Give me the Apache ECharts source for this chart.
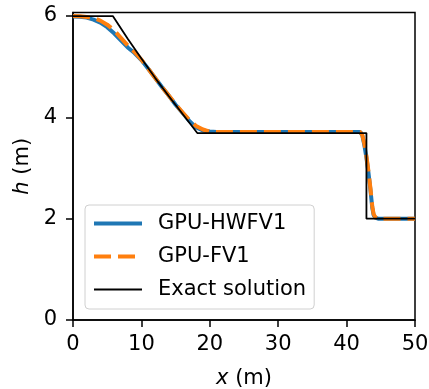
<!DOCTYPE html>
<html>
<head>
<meta charset="utf-8">
<script src="https://cdn.jsdelivr.net/npm/echarts@6/dist/echarts.min.js"></script>
<style>
html,body{margin:0;padding:0;background:#fff;}
#chart{width:429px;height:389px;}
</style>
</head>
<body>
<div id="chart"></div>
<script>
// GPU-HWFV1
const xHW = [0, 1, 2, 3, 4, 5, 6, 7, 8, 9, 10, 11, 12, 13, 14, 15, 16, 17, 18, 19, 20, 21, 30, 40, 42.0, 42.3, 42.6, 42.9, 43.2, 43.5, 43.75, 43.95, 44.2, 44.6, 50];
const hHW = [5.99, 5.985, 5.97, 5.93, 5.87, 5.78, 5.66, 5.52, 5.38, 5.27, 5.13, 4.96, 4.78, 4.60, 4.43, 4.25, 4.09, 3.93, 3.80, 3.74, 3.72, 3.71, 3.71, 3.71, 3.71, 3.64, 3.45, 3.20, 2.90, 2.55, 2.22, 2.07, 2.02, 2.0, 2.0];
// GPU-FV1
const xFV = [0, 1, 2, 3, 4, 5, 6, 7, 8, 9, 10, 11, 12, 13, 14, 15, 16, 17, 18, 19, 20, 21, 30, 40, 42.0, 42.3, 42.6, 42.9, 43.2, 43.5, 43.75, 43.95, 44.2, 44.6, 50];
const hFV = [6.0, 5.995, 5.98, 5.96, 5.91, 5.83, 5.72, 5.57, 5.42, 5.29, 5.14, 4.96, 4.78, 4.60, 4.43, 4.26, 4.10, 3.95, 3.83, 3.76, 3.72, 3.71, 3.71, 3.71, 3.71, 3.65, 3.48, 3.23, 2.93, 2.58, 2.25, 2.09, 2.03, 2.0, 2.0];
// Exact solution
const xEx = [0, 5.82, 8, 10, 12, 14, 16, 18.17, 42.9, 42.9, 50];
const hEx = [6, 6, 5.55, 5.16, 4.78, 4.42, 4.07, 3.69, 3.69, 2.0, 2.0];

const xTicks = [0, 10, 20, 30, 40, 50];
const yTicks = [0, 2, 4, 6];
const seriesNames = ['GPU-HWFV1', 'GPU-FV1', 'Exact solution'];

const pairs = (xs, ys) => xs.map((x, i) => [x, ys[i]]);
const FONT = 'DejaVu Sans';

const chart = echarts.init(document.getElementById('chart'), null, {renderer: 'canvas'});
chart.setOption({
  backgroundColor: '#fff',
  animation: false,
  grid: {
    left: 73, right: 14, top: 12.5, bottom: 69,
    outerBoundsMode: 'none', containLabel: false,
    show: true, borderColor: '#000', borderWidth: 1.5, backgroundColor: 'transparent'
  },
  legend: {
    orient: 'vertical',
    left: 85, top: 205,
    data: seriesNames,
    itemWidth: 48, itemHeight: 14, itemGap: 8,
    padding: [6, 8, 7, 7],
    backgroundColor: 'rgba(255,255,255,0.85)',
    borderColor: '#d0d0d0', borderWidth: 1, borderRadius: 4,
    itemStyle: {opacity: 0},
    lineStyle: {width: 'inherit', type: 'inherit', color: 'inherit'},
    textStyle: {fontFamily: FONT, fontSize: 21, color: '#000', lineHeight: 25, padding: [0, 0, 0, 11]}
  },
  xAxis: {
    type: 'value', min: 0, max: 50, interval: 10,
    name: '{i|x} (m)', nameLocation: 'middle', nameGap: 48,
    nameTextStyle: {fontFamily: FONT, fontSize: 21, color: '#000',
      rich: {i: {fontFamily: FONT, fontSize: 21, fontStyle: 'italic', color: '#000'}}},
    axisLine: {show: true, lineStyle: {color: '#000', width: 1.5}},
    axisTick: {show: true, inside: false, length: 7, lineStyle: {color: '#000', width: 1.5}, customValues: xTicks},
    axisLabel: {fontFamily: FONT, fontSize: 21, color: '#000', margin: 14, customValues: xTicks},
    splitLine: {show: false}
  },
  yAxis: {
    type: 'value', min: 0, max: 6.07, interval: 2,
    name: '{i|h} (m)', nameLocation: 'middle', nameGap: 40, nameRotate: 90,
    nameTextStyle: {fontFamily: FONT, fontSize: 21, color: '#000',
      rich: {i: {fontFamily: FONT, fontSize: 21, fontStyle: 'italic', color: '#000'}}},
    axisLine: {show: true, lineStyle: {color: '#000', width: 1.5}},
    axisTick: {show: true, inside: false, length: 7, lineStyle: {color: '#000', width: 1.5}, customValues: yTicks},
    axisLabel: {fontFamily: FONT, fontSize: 21, color: '#000', margin: 16, customValues: yTicks},
    splitLine: {show: false}
  },
  series: [
    {
      name: seriesNames[0], type: 'line', data: pairs(xHW, hHW),
      symbol: 'none', smooth: false, color: '#1f77b4',
      lineStyle: {color: '#1f77b4', width: 4}, z: 2
    },
    {
      name: seriesNames[1], type: 'line', data: pairs(xFV, hFV),
      symbol: 'none', smooth: false, color: '#ff7f0e',
      lineStyle: {color: '#ff7f0e', width: 4, type: [17, 7]}, z: 3
    },
    {
      name: seriesNames[2], type: 'line', data: pairs(xEx, hEx),
      symbol: 'none', smooth: false, color: '#000',
      lineStyle: {color: '#000', width: 1.8}, z: 4
    }
  ]
});
</script>
</body>
</html>
